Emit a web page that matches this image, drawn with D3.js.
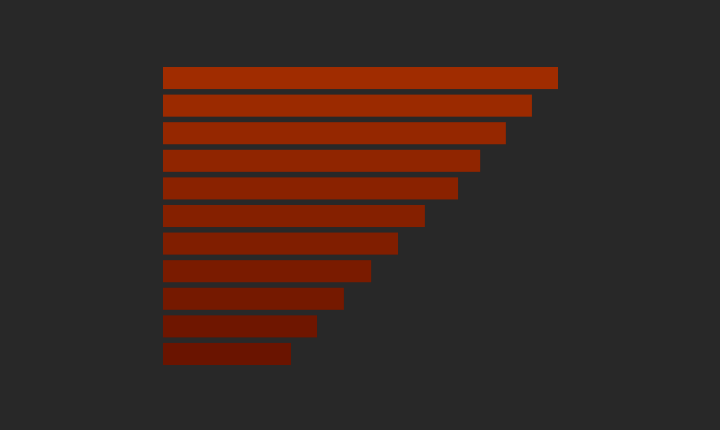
<!DOCTYPE html>
<html><head><meta charset="utf-8">
<script src="https://cdn.jsdelivr.net/npm/d3@7"></script>
<style>html,body{margin:0;padding:0;background:#282828;}svg{display:block;}</style>
</head><body>
<svg id="chart" width="720" height="430"></svg>
<script>
const categories = ["A","B","C","D","E","F","G","H","I","J","K"];
const values = [100, 93.4, 86.8, 80.3, 74.7, 66.3, 59.5, 52.7, 45.8, 39.0, 32.4];
const colorStops = ["#a02c00", "#6a1400"];

const svg = d3.select("#chart");
svg.append("rect").attr("width",720).attr("height",430).attr("fill","#282828");

const x = d3.scaleLinear().domain([0,100]).range([163,558]);
const y = d3.scaleBand().domain(categories).range([67,365]).paddingInner(0.2).paddingOuter(0);
const color = d3.scaleLinear().domain([0, categories.length-1]).range(colorStops);

svg.selectAll("rect.bar").data(values).join("rect")
  .attr("class","bar")
  .attr("x", x(0))
  .attr("y", (d,i)=>y(categories[i]))
  .attr("width", d=>x(d)-x(0))
  .attr("height", y.bandwidth())
  .attr("fill", (d,i)=>color(i));
</script>
</body></html>
